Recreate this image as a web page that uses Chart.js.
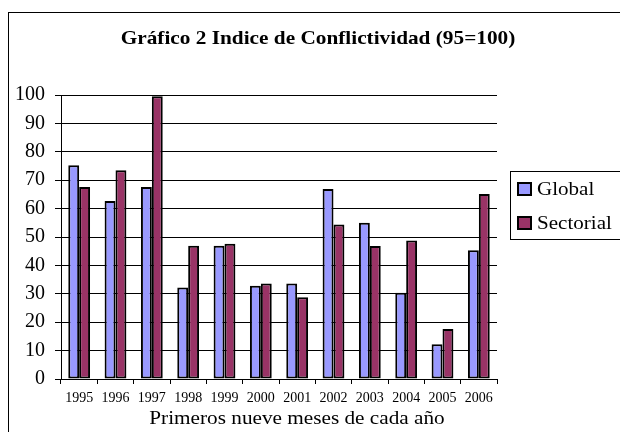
<!DOCTYPE html>
<html>
<head>
<meta charset="utf-8">
<script src="https://cdn.jsdelivr.net/npm/chart.js@4.4.1/dist/chart.umd.min.js"></script>
<style>
html,body{margin:0;padding:0;background:#fff;}
#wrap{width:620px;height:432px;position:relative;}
</style>
</head>
<body>
<div id="wrap"><canvas id="c" width="620" height="432"></canvas></div>
<script>
const categories = ['1995','1996','1997','1998','1999','2000','2001','2002','2003','2004','2005','2006'];
const globalValues = [75.3, 62.7, 67.6, 32.2, 46.9, 32.8, 33.6, 66.9, 55.0, 30.4, 12.2, 45.3];
const sectorialValues = [67.6, 73.5, 99.6, 46.9, 47.6, 33.6, 28.8, 54.4, 46.8, 48.8, 17.6, 65.1];
const seriesNames = ['Global', 'Sectorial'];
const seriesColors = ['#9999FF', '#993366'];
const chartTitle = 'Gráfico 2 Indice de Conflictividad (95=100)';
const xAxisTitle = 'Primeros nueve meses de cada año';

const FONT = '"Liberation Serif", "Times New Roman", serif';

function scaledText(ctx, text, x, y, sx, align) {
  ctx.save();
  ctx.translate(x, y);
  ctx.scale(sx, 1);
  ctx.textAlign = align;
  ctx.fillText(text, 0, 0);
  ctx.restore();
}

const decor = {
  id: 'decor',
  beforeDraw(chart) {
    const ctx = chart.ctx;
    ctx.save();
    ctx.fillStyle = '#fff';
    ctx.fillRect(0, 0, chart.width, chart.height);
    ctx.strokeStyle = '#000';
    ctx.lineWidth = 1;
    ctx.strokeRect(8.5, 12.5, 640, 460);
    ctx.restore();
  },
  afterDraw(chart) {
    const ctx = chart.ctx;
    ctx.save();
    ctx.fillStyle = '#000';
    ctx.textBaseline = 'alphabetic';
    // title
    ctx.font = 'bold 19px ' + FONT;
    scaledText(ctx, chartTitle, 318, 44, 1.12, 'center');
    // x axis title
    ctx.font = '18px ' + FONT;
    scaledText(ctx, xAxisTitle, 297, 424, 1.18, 'center');
    // legend
    ctx.strokeStyle = '#000';
    ctx.lineWidth = 1;
    ctx.strokeRect(510.5, 171.5, 130, 68);
    ctx.font = '18px ' + FONT;
    const ys = [189, 223];
    chart.data.datasets.forEach((ds, i) => {
      const y = ys[i];
      ctx.fillStyle = ds.backgroundColor;
      ctx.fillRect(517, y - 7, 15, 14);
      ctx.lineWidth = 2;
      ctx.strokeStyle = '#000';
      ctx.strokeRect(518, y - 6, 13, 12);
      ctx.fillStyle = '#000';
      ctx.textBaseline = 'alphabetic';
      scaledText(ctx, ds.label, 537, y + 6, 1.17, 'left');
    });
    ctx.restore();
  }
};

new Chart(document.getElementById('c'), {
  type: 'bar',
  data: {
    labels: categories,
    datasets: [
      { label: seriesNames[0], data: globalValues, backgroundColor: seriesColors[0], borderColor: '#000', borderWidth: 2, borderSkipped: false },
      { label: seriesNames[1], data: sectorialValues, backgroundColor: seriesColors[1], borderColor: '#000', borderWidth: 2, borderSkipped: false }
    ]
  },
  options: {
    responsive: false,
    animation: false,
    devicePixelRatio: 1,
    layout: { padding: { left: 0, right: 123, top: 95, bottom: 0 } },
    datasets: { bar: { categoryPercentage: 0.6, barPercentage: 1.0 } },
    plugins: {
      legend: { display: false },
      title: { display: false },
      tooltip: { enabled: false }
    },
    scales: {
      x: {
        grid: { display: true, offset: true, drawOnChartArea: false, drawTicks: true, tickLength: 5, color: '#000', lineWidth: 1 },
        border: { display: true, color: '#000', width: 1 },
        ticks: { color: '#000', font: { family: FONT, size: 14 }, padding: 6, maxRotation: 0, autoSkip: false },
        afterFit(scale) { scale.height = 53; }
      },
      y: {
        min: 0, max: 100,
        grid: { color: '#000', lineWidth: 1, tickLength: 6, drawTicks: true },
        border: { display: true, color: '#000', width: 1 },
        ticks: { stepSize: 10, color: '#000', font: { family: FONT, size: 20 }, padding: 10 },
        afterFit(scale) { scale.width = 61; }
      }
    }
  },
  plugins: [decor]
});
</script>
</body>
</html>
